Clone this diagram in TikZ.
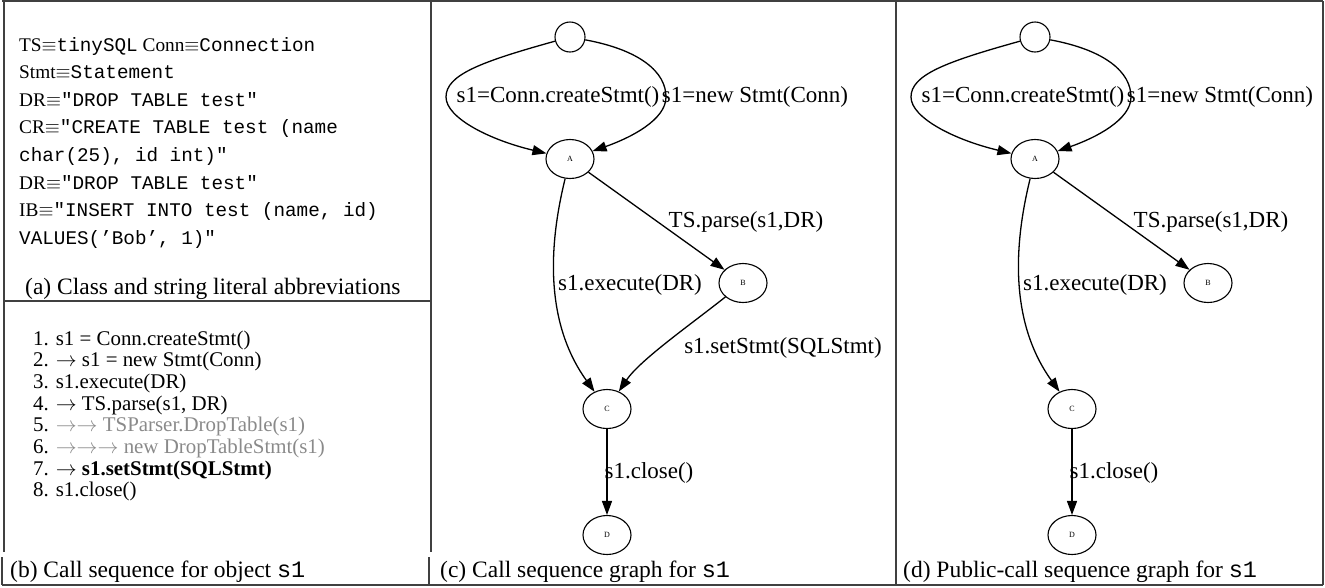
\documentclass[tikz,border=0pt]{standalone}
\usepackage{fix-cm}
\usepackage{fontspec}
\setmainfont{Liberation Serif}
\setmonofont{Liberation Mono}
\usetikzlibrary{arrows.meta,shapes.geometric}
\definecolor{lgray}{HTML}{8A8A8A}
\definecolor{framec}{HTML}{404040}
\begin{document}
\begin{tikzpicture}[x=1pt,y=-1pt,
  frame/.style={draw=framec,line width=1.1pt},
  gnode/.style={draw,ellipse,line width=1.1pt,minimum width=48pt,minimum height=39pt,inner sep=0pt,font=\fontsize{8}{8}\selectfont},
  startnode/.style={draw,circle,line width=1.1pt,minimum size=30pt,inner sep=0pt},
  edge/.style={line width=1.3pt,-{Triangle[length=14pt,width=10pt]}},
  elabel/.style={inner sep=0pt,font=\fontsize{23}{23}\selectfont},
  abbr/.style={anchor=base west,inner sep=0pt,text height=14pt,text depth=4pt,font=\fontsize{19.3}{19.3}\selectfont},
  listitem/.style={anchor=base west,inner sep=0pt,text height=14pt,text depth=4.5pt,font=\fontsize{20.9}{20.9}\selectfont},
  captext/.style={anchor=base west,inner sep=0pt,font=\fontsize{23.5}{23.5}\selectfont}]

\useasboundingbox (0,0) rectangle (1325,587);

% frame
\draw[frame] (2,1) -- (1323,1);
\draw[frame] (1323,1) -- (1323,585);
\draw[frame] (2,585) -- (1323,585);
\draw[frame] (4,1) -- (4,552);
\draw[frame] (2,557) -- (2,585);
\draw[frame] (431,1) -- (431,552);
\draw[frame] (429,557) -- (429,585);
\draw[frame] (896,1) -- (896,585);
\draw[frame] (4,301) -- (431,301);

% panel a
\node[abbr] (a1) at (19,51) {TS$\equiv$\texttt{tinySQL} Conn$\equiv$\texttt{Connection}};
\node[abbr] (a2) at (19,78.6) {Stmt$\equiv$\texttt{Statement}};
\node[abbr] (a3) at (19,106.2) {DR$\equiv$\texttt{"DROP TABLE test"}};
\node[abbr] (a4) at (19,133.8) {CR$\equiv$\texttt{"CREATE TABLE test (name}};
\node[abbr] (a5) at (19,161.4) {\texttt{char(25), id int)"}};
\node[abbr] (a6) at (19,189) {DR$\equiv$\texttt{"DROP TABLE test"}};
\node[abbr] (a7) at (19,216.6) {IB$\equiv$\texttt{"INSERT INTO test (name, id)}};
\node[abbr] (a8) at (19,244.2) {\texttt{VALUES(’Bob’, 1)"}};
\node[captext] (ca) at (25,294) {(a) Class and string literal abbreviations};

% panel b
\node[listitem] (b1) at (33,345) {1. s1 = Conn.createStmt()};
\node[listitem] (b2) at (33,366.7) {2. $\rightarrow$ s1 = new Stmt(Conn)};
\node[listitem] (b3) at (33,388.4) {3. s1.execute(DR)};
\node[listitem] (b4) at (33,410.1) {4. $\rightarrow$ TS.parse(s1, DR)};
\node[listitem] (b5) at (33,431.8) {5. \textcolor{lgray}{$\rightarrow\rightarrow$ TSParser.DropTable(s1)}};
\node[listitem] (b6) at (33,453.5) {6. \textcolor{lgray}{$\rightarrow\rightarrow\rightarrow$ new DropTableStmt(s1)}};
\node[listitem] (b7) at (33,475.2) {7. $\rightarrow$ \textbf{s1.setStmt(SQLStmt)}};
\node[listitem] (b8) at (33,496.9) {8. s1.close()};
\node[captext] (cb) at (10,577) {(b) Call sequence for object \texttt{s1}};

% panel c
\node[startnode] (s) at (570,37) {};
\node[gnode] (A) at (570,159) {A};
\node[gnode] (B) at (743,283) {B};
\node[gnode] (C) at (607,409) {C};
\node[gnode] (D) at (607,535) {D};
\draw[edge] (s) .. controls (480,62) and (446,75) .. (446,97) .. controls (446,118) and (490,140) .. (A);
\draw[edge] (s) .. controls (640,50) and (666,72) .. (666,97) .. controls (666,120) and (630,138) .. (A);
\draw[edge] (A) -- (B);
\draw[edge] (A) .. controls (545,260) and (550,330) .. (C);
\draw[edge] (B) .. controls (690,325) and (640,360) .. (C);
\draw[edge] (C) -- (D);
\node[elabel] (l1) at (558,97) {s1=Conn.createStmt()};
\node[elabel] (l2) at (755,97) {s1=new Stmt(Conn)};
\node[elabel] (l3) at (746,222) {TS.parse(s1,DR)};
\node[elabel] (l4) at (630,285) {s1.execute(DR)};
\node[elabel] (l5) at (783,348) {s1.setStmt(SQLStmt)};
\node[elabel] (l6) at (649,473) {s1.close()};
\node[captext] (cc) at (440,577) {(c) Call sequence graph for \texttt{s1}};

% panel d
\begin{scope}[xshift=465pt]
\node[startnode] (ds) at (570,37) {};
\node[gnode] (dA) at (570,159) {A};
\node[gnode] (dB) at (743,283) {B};
\node[gnode] (dC) at (607,409) {C};
\node[gnode] (dD) at (607,535) {D};
\draw[edge] (ds) .. controls (480,62) and (446,75) .. (446,97) .. controls (446,118) and (490,140) .. (dA);
\draw[edge] (ds) .. controls (640,50) and (666,72) .. (666,97) .. controls (666,120) and (630,138) .. (dA);
\draw[edge] (dA) -- (dB);
\draw[edge] (dA) .. controls (545,260) and (550,330) .. (dC);
\draw[edge] (dC) -- (dD);
\node[elabel] (dl1) at (558,97) {s1=Conn.createStmt()};
\node[elabel] (dl2) at (755,97) {s1=new Stmt(Conn)};
\node[elabel] (dl3) at (746,222) {TS.parse(s1,DR)};
\node[elabel] (dl4) at (630,285) {s1.execute(DR)};
\node[elabel] (dl6) at (649,473) {s1.close()};
\end{scope}
\node[captext] (cd) at (903,577) {(d) Public-call sequence graph for \texttt{s1}};
\end{tikzpicture}
\end{document}
